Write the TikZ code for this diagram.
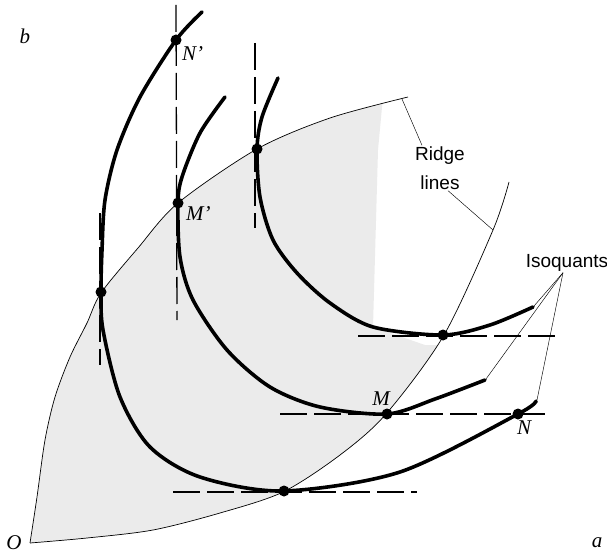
\documentclass[tikz,border=0pt]{standalone}
\usepackage{fontspec}
\setmainfont{Liberation Serif}
\setsansfont{Liberation Sans}
\usepackage{tikz}
\usetikzlibrary{positioning}

\begin{document}
\begin{tikzpicture}[
    x=1pt, y=-1pt,
    isoquant/.style={
        line width=3.6pt,
        line cap=round
    },
    ridgeline/.style={
        line width=0.7pt
    },
    tangent/.style={
        line width=1.3pt,
        dash pattern=on 27pt off 7pt
    },
    leader/.style={
        line width=0.45pt
    },
    dot/.style={
        circle,
        fill,
        inner sep=0pt,
        minimum size=11pt
    },
    tag/.style={
        font=\fontsize{21}{24}\selectfont\itshape,
        inner sep=1pt
    },
    note/.style={
        font=\fontsize{19}{29}\selectfont\sffamily,
        align=center,
        inner sep=1pt
    }
]

\useasboundingbox (0,0) rectangle (607,556);

%---------------------------------------------------------------------
% Region between the ridge lines
%---------------------------------------------------------------------

\begin{scope}
    \clip plot[smooth] coordinates {(30,543) (37,497) (45,440) (55,397)
        (70,357) (87,323) (101,293) (138,248) (178,203) (257,149)
        (330,118) (408,97)}
        -- plot[smooth] coordinates {(509,182) (493,230) (444,335)
        (386,414) (340,455) (283,492) (220,513) (153,530) (87,538)
        (30,543)} -- cycle;
    \fill[black!8] (0,0) -- (392,0) -- (378,150) -- (373,327)
        -- (425,345) -- (607,345) -- (607,556) -- (0,556) -- cycle;
\end{scope}

%---------------------------------------------------------------------
% Ridge lines
%---------------------------------------------------------------------

\draw[ridgeline] plot[smooth] coordinates {(30,543) (37,497) (45,440)
    (55,397) (70,357) (87,323) (101,293) (138,248) (178,203) (257,149)
    (330,118) (408,97)};
\draw[ridgeline] plot[smooth] coordinates {(30,543) (87,538) (153,530)
    (220,513) (283,492) (340,455) (386,414) (444,335) (493,230)
    (509,182)};

\coordinate (rtop) at (402,99);
\coordinate (rlow) at (493,230);

%---------------------------------------------------------------------
% Tangents
%---------------------------------------------------------------------

\draw[tangent] (176,5) -- (177,320);
\draw[tangent] (255,43) -- (255,228);
\draw[tangent] (100,213) -- (100,365);
\draw[tangent] (358,336) -- (555,336);
\draw[tangent] (280,414) -- (548,414);
\draw[tangent] (173,492) -- (417,492);

%---------------------------------------------------------------------
% Isoquants
%---------------------------------------------------------------------

\draw[isoquant] plot[smooth] coordinates {(202,12) (176,40) (140,97)
    (117,150) (105,200) (102,250) (101,292) (103,330) (120,397)
    (150,447) (200,477) (283,491) (400,472) (518,414) (536,401)};
\draw[isoquant] plot[smooth] coordinates {(225,97) (200,133) (182,177)
    (178,203) (180,257) (193,300) (227,350) (270,387) (320,407)
    (387,414) (435,399) (485,380)};
\draw[isoquant] plot[smooth] coordinates {(278,78) (262,117) (257,149)
    (260,197) (273,240) (297,273) (330,303) (373,327) (443,335)
    (490,325) (533,307)};

\coordinate (e1) at (537,400);
\coordinate (e2) at (486,379);
\coordinate (e3) at (534,306);

%---------------------------------------------------------------------
% Points
%---------------------------------------------------------------------

\node[dot] (Np) at (176,40) {};
\node[dot] (Mp) at (178,203) {};
\node[dot] (Pp) at (257,149) {};
\node[dot] (Qp) at (101,292) {};
\node[dot] (Q) at (284,491) {};
\node[dot] (M) at (387,414) {};
\node[dot] (P) at (443,335) {};
\node[dot] (N) at (518,414) {};

\node[tag, below right=1pt and 1pt of Np] (lNp) {N'};
\node[tag, below right=-2pt and 3pt of Mp] (lMp) {M'};
\node[tag, above left=3pt and -8pt of M] (lM) {M};
\node[tag, below right=2pt and -6pt of N] (lN) {N};

\node[tag] (orig) at (14,543) {O};
\node[tag] (axb) at (25,36) {b};
\node[tag] (axa) at (597,543) {a};

%---------------------------------------------------------------------
% Notes
%---------------------------------------------------------------------

\node[note] (ridge) at (440,168) {Ridge\\lines};
\node[note] (iso) at (567,263) {Isoquants};

\draw[leader] ([xshift=-18pt]ridge.north) -- (rtop);
\draw[leader] ([xshift=8pt]ridge.south) -- (rlow);
\draw[leader] ([xshift=-4pt]iso.south) -- (e3);
\draw[leader] ([xshift=-4pt]iso.south) -- (e2);
\draw[leader] ([xshift=-4pt]iso.south) -- (e1);

\end{tikzpicture}
\end{document}
